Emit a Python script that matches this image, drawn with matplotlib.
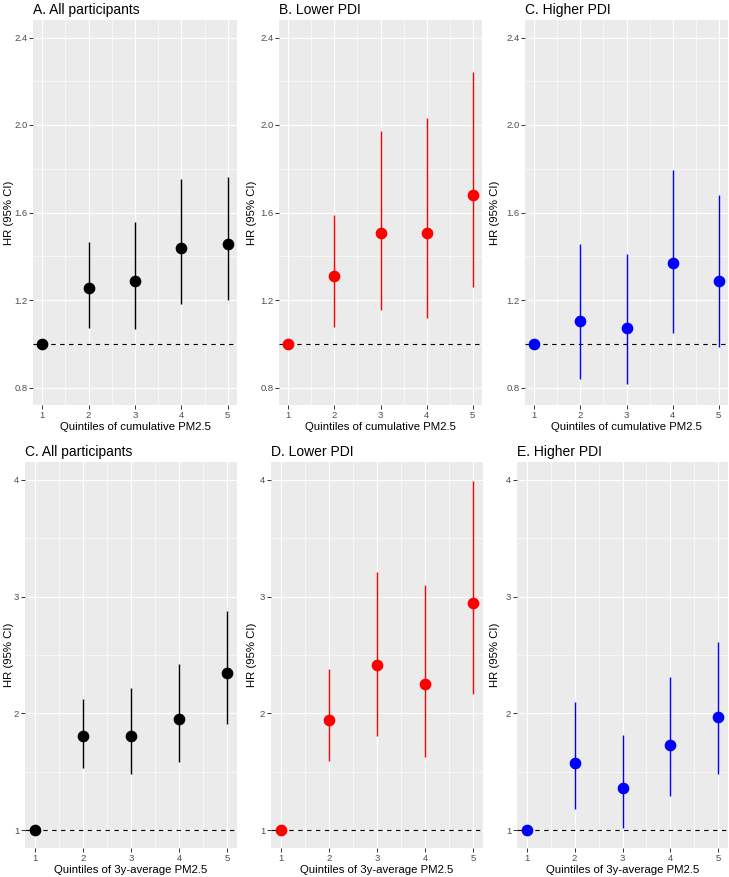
import numpy as np
import matplotlib
matplotlib.use("Agg")
import matplotlib.pyplot as plt
from matplotlib.ticker import MultipleLocator

plt.rcParams["font.family"] = ["Liberation Sans", "DejaVu Sans"]

# ================================
#  data
# ================================
quintiles = [1, 2, 3, 4, 5]

# top row: cumulative PM2.5
hr_all_cum = [1.0, 1.253, 1.288, 1.439, 1.455]
lo_all_cum = [1.0, 1.073, 1.067, 1.183, 1.201]
hi_all_cum = [1.0, 1.465, 1.555, 1.752, 1.763]

hr_low_cum = [1.0, 1.308, 1.508, 1.506, 1.679]
lo_low_cum = [1.0, 1.077, 1.153, 1.120, 1.258]
hi_low_cum = [1.0, 1.588, 1.972, 2.031, 2.243]

hr_high_cum = [1.0, 1.105, 1.073, 1.370, 1.285]
lo_high_cum = [1.0, 0.841, 0.815, 1.047, 0.985]
hi_high_cum = [1.0, 1.456, 1.411, 1.794, 1.679]

# bottom row: 3y-average PM2.5
hr_all_3y = [1.0, 1.806, 1.811, 1.957, 2.346]
lo_all_3y = [1.0, 1.531, 1.480, 1.583, 1.909]
hi_all_3y = [1.0, 2.123, 2.214, 2.420, 2.877]

hr_low_3y = [1.0, 1.946, 2.411, 2.249, 2.943]
lo_low_3y = [1.0, 1.591, 1.809, 1.629, 2.166]
hi_low_3y = [1.0, 2.383, 3.211, 3.100, 3.990]

hr_high_3y = [1.0, 1.580, 1.360, 1.729, 1.971]
lo_high_3y = [1.0, 1.186, 1.020, 1.291, 1.480]
hi_high_3y = [1.0, 2.097, 1.817, 2.314, 2.614]

titles_top = ["A. All participants", "B. Lower PDI", "C. Higher PDI"]
titles_bot = ["C. All participants", "D. Lower PDI", "E. Higher PDI"]
colors = ["black", "red", "blue"]

W, H = 729, 877
fig = plt.figure(figsize=(W / 100, H / 100), dpi=100)


def box(left, top, right, bottom):
    return [left / W, 1 - bottom / H, (right - left) / W, (bottom - top) / H]


def panel(left, top, right, bottom, cell_x, hr, lo, hi, color, title,
          xlabel, ylim, ymaj, ymin_step):
    ax = fig.add_axes(box(left, top, right, bottom))
    ax.set_facecolor("#EBEBEB")
    for s in ax.spines.values():
        s.set_visible(False)
    ax.set_axisbelow(True)
    ax.xaxis.set_major_locator(MultipleLocator(1))
    ax.xaxis.set_minor_locator(MultipleLocator(0.5))
    ax.yaxis.set_major_locator(MultipleLocator(ymaj))
    ax.yaxis.set_minor_locator(MultipleLocator(ymin_step))
    ax.grid(True, which="major", color="white", lw=0.85)
    ax.grid(True, which="minor", color="white", lw=0.4)
    ax.tick_params(which="minor", length=0)
    ax.tick_params(which="major", length=2.6, width=0.7, color="#333333",
                   labelcolor="#4D4D4D", labelsize=6.8, pad=1.5)

    ax.axhline(1, color="black", lw=0.8, ls=(0, (4, 4)), zorder=2)
    ax.vlines(quintiles, lo, hi, color=color, lw=1.0, zorder=3)
    ax.plot(quintiles, hr, "o", color=color, ms=7.4, zorder=4)

    ax.set_xlim(0.8, 5.2)
    ax.set_ylim(*ylim)
    if ymaj == 0.4:
        ax.set_yticks([0.8, 1.2, 1.6, 2.0, 2.4])
        ax.set_yticklabels(["0.8", "1.2", "1.6", "2.0", "2.4"])
    else:
        ax.set_yticks([1, 2, 3, 4])
    ax.set_title(title, loc="left", fontsize=10, pad=4)
    ax.set_xlabel(xlabel, fontsize=8.2, labelpad=2)
    ax.set_ylabel("HR (95% CI)", fontsize=8.2)
    ax.yaxis.set_label_coords((cell_x + 14 - left) / (right - left), 0.5)
    return ax


top_data = [(hr_all_cum, lo_all_cum, hi_all_cum),
            (hr_low_cum, lo_low_cum, hi_low_cum),
            (hr_high_cum, lo_high_cum, hi_high_cum)]
bot_data = [(hr_all_3y, lo_all_3y, hi_all_3y),
            (hr_low_3y, lo_low_3y, hi_low_3y),
            (hr_high_3y, lo_high_3y, hi_high_3y)]

cells = [0, 243, 486]
top_x = [(33, 237), (279, 482), (525, 728)]
bot_x = [(25, 237), (271, 483), (517, 728)]

for i in range(3):
    hr, lo, hi = top_data[i]
    panel(top_x[i][0], 20, top_x[i][1], 405, cells[i], hr, lo, hi, colors[i],
          titles_top[i], "Quintiles of cumulative PM2.5",
          (0.72, 2.48), 0.4, 0.2)
    hr, lo, hi = bot_data[i]
    panel(bot_x[i][0], 462, bot_x[i][1], 848, cells[i], hr, lo, hi, colors[i],
          titles_bot[i], "Quintiles of 3y-average PM2.5",
          (0.85, 4.15), 1, 0.5)

fig.savefig("out.png", dpi=100, facecolor="white")
